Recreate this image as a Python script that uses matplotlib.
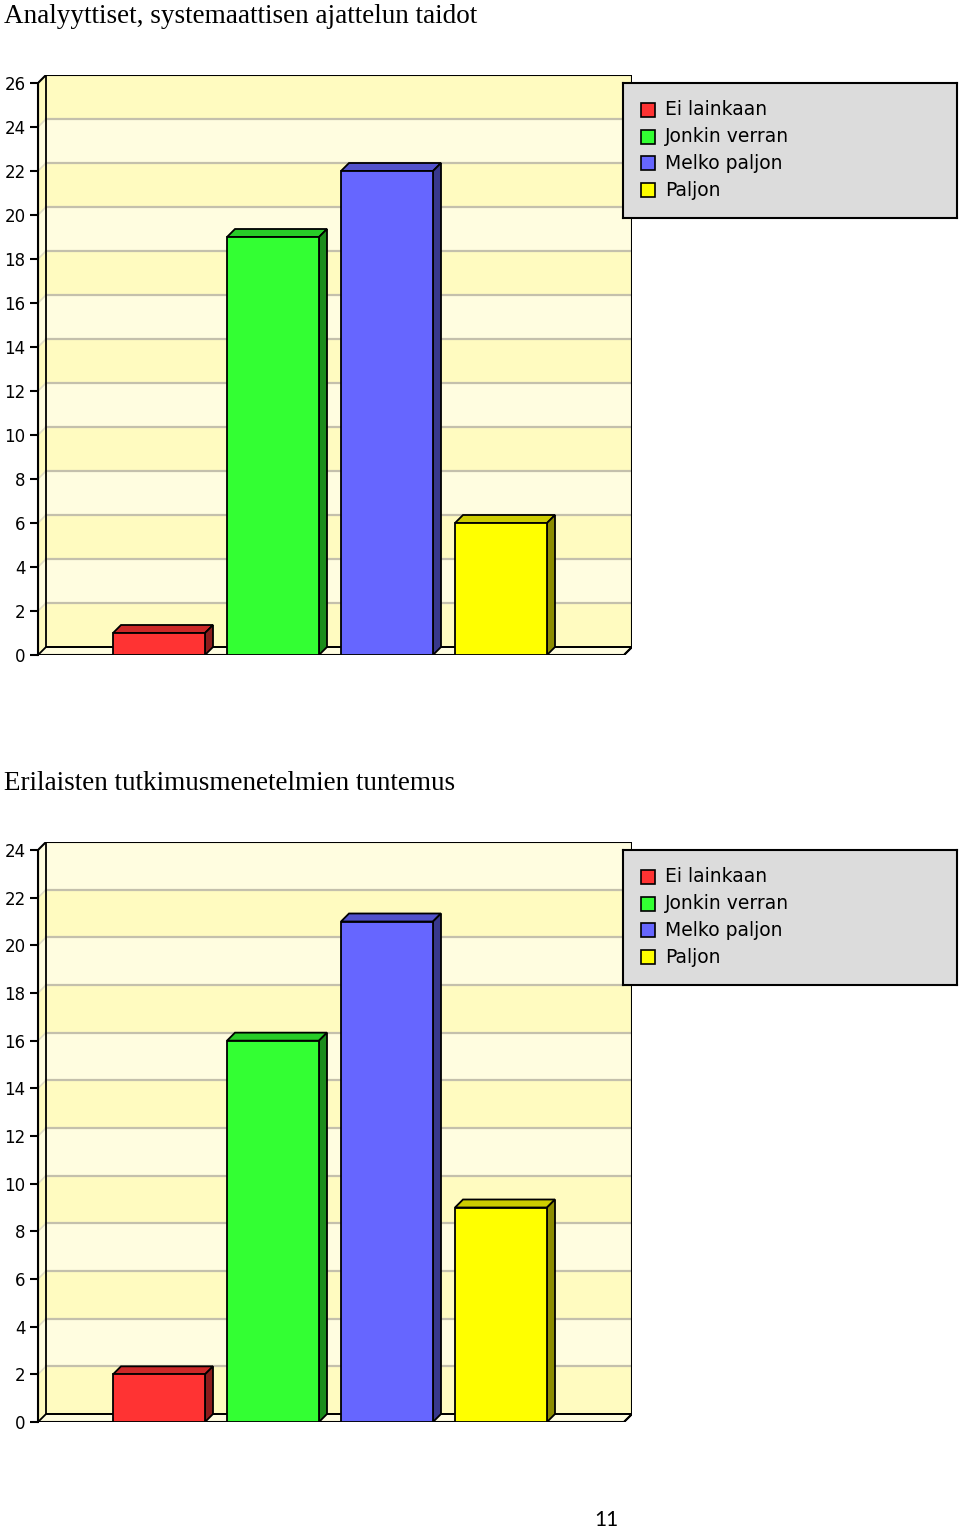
import matplotlib.pyplot as plt
from matplotlib.patches import Polygon, Rectangle

FIG_W, FIG_H = 960, 1530

CATEGORIES = ["Ei lainkaan", "Jonkin verran", "Melko paljon", "Paljon"]
FRONT_COLORS = ["#FF3333", "#33FF33", "#6666FF", "#FFFF00"]
TOP_COLORS = ["#CC2828", "#28CC28", "#5252CC", "#CCCC00"]
SIDE_COLORS = ["#8C1C1C", "#1C8C1C", "#38388C", "#8C8C00"]

TITLE_1 = "Analyyttiset, systemaattisen ajattelun taidot"
VALUES_1 = [1, 19, 22, 6]
YMAX_1 = 26

TITLE_2 = "Erilaisten tutkimusmenetelmien tuntemus"
VALUES_2 = [2, 16, 21, 9]
YMAX_2 = 24

PAGE_NUMBER = "11"

BAND_LIGHT = "#FFFDE0"
BAND_DARK = "#FFFBC0"
GRID_COLOR = "#C4C0AC"
SIDE_GRID_COLOR = "#E2DEC4"
LEGEND_BG = "#DCDCDC"


def fig_box(left, top, right, bottom):
    # pixel box (from top-left) -> figure fraction rect
    return [left / FIG_W, 1 - bottom / FIG_H, (right - left) / FIG_W, (bottom - top) / FIG_H]


def draw_chart(fig, top_px, values, ymax, title):
    left_px, right_px, height_px = 38, 632, 580
    depth_px = 8
    slot_px = 114
    first_center_px = 159
    bar_px = 92

    ax = fig.add_axes(fig_box(left_px, top_px, right_px, top_px + height_px))
    ppu = (height_px - depth_px) / ymax
    dy = depth_px / ppu
    dx = depth_px / slot_px
    x0 = (left_px - first_center_px) / slot_px
    x1 = (right_px - first_center_px) / slot_px
    w = bar_px / slot_px
    ax.set_xlim(x0, x1)
    ax.set_ylim(0, ymax + dy)

    # walls with alternating bands
    for v in range(0, ymax, 2):
        color = BAND_DARK if v % 4 == 0 else BAND_LIGHT
        band = Polygon([(x0, v), (x0 + dx, v + dy), (x1, v + dy), (x1, v + 2 + dy),
                        (x0 + dx, v + 2 + dy), (x0, v + 2)],
                       closed=True, facecolor=color, edgecolor="none", zorder=0)
        ax.add_patch(band)
    # floor
    floor = Polygon([(x0, 0), (x0 + dx, dy), (x1, dy), (x1 - dx, 0)], closed=True,
                    facecolor=BAND_LIGHT, edgecolor="black", lw=1.3, zorder=1)
    ax.add_patch(floor)

    ticks = list(range(0, ymax + 1, 2))
    for v in ticks[1:-1]:
        ax.plot([x0 + dx, x1], [v + dy, v + dy], color=GRID_COLOR, lw=1.6, zorder=1)
        ax.plot([x0, x0 + dx], [v, v + dy], color=SIDE_GRID_COLOR, lw=1.2, zorder=1)

    outline = Polygon([(x0, 0), (x0, ymax), (x0 + dx, ymax + dy), (x1, ymax + dy),
                       (x1, dy), (x1 - dx, 0)], closed=True, facecolor="none",
                      edgecolor="black", lw=1.5, zorder=2)
    ax.add_patch(outline)
    ax.plot([x0 + dx, x0 + dx, x1], [ymax + dy, dy, dy], color="black", lw=1.3, zorder=2)

    # bars
    xs = list(range(len(values)))
    ax.bar(xs, values, width=w, color=FRONT_COLORS, edgecolor="black", linewidth=1.3, zorder=4)
    for i, v in enumerate(values):
        top = Polygon([(i - w / 2, v), (i - w / 2 + dx, v + dy), (i + w / 2 + dx, v + dy),
                       (i + w / 2, v)], closed=True, facecolor=TOP_COLORS[i],
                      edgecolor="black", lw=1.3, zorder=3)
        side = Polygon([(i + w / 2, 0), (i + w / 2, v), (i + w / 2 + dx, v + dy),
                        (i + w / 2 + dx, dy)], closed=True, facecolor=SIDE_COLORS[i],
                       edgecolor="black", lw=1.3, zorder=3)
        ax.add_patch(top)
        ax.add_patch(side)

    for name in ["top", "right", "bottom"]:
        ax.spines[name].set_visible(False)
    ax.spines["left"].set_bounds(0, ymax)
    ax.spines["left"].set_linewidth(1.5)
    ax.spines["left"].set_zorder(5)
    ax.set_xticks([])
    ax.set_yticks(ticks)
    ax.tick_params(axis="y", length=6, width=1.5, pad=3, labelsize=12)
    ax.patch.set_visible(False)

    fig.text(4 / FIG_W, 1 - (top_px - 52) / FIG_H, title, family="Liberation Serif",
             fontsize=19.5, ha="left", va="baseline")

    # legend box
    lg_top = top_px + 8
    lg = fig.add_axes(fig_box(623, lg_top, 957, lg_top + 135))
    lg.set_facecolor(LEGEND_BG)
    lg.set_xlim(0, 334)
    lg.set_ylim(135, 0)
    lg.set_xticks([])
    lg.set_yticks([])
    for s in lg.spines.values():
        s.set_linewidth(1.5)
    for k, (name, color) in enumerate(zip(CATEGORIES, FRONT_COLORS)):
        yc = 27 + k * 26.7
        lg.add_patch(Rectangle((18, yc - 7), 14, 14, facecolor=color, edgecolor="black", lw=1.2))
        lg.text(42, yc, name, fontsize=13.5, ha="left", va="center")


fig = plt.figure(figsize=(FIG_W / 100, FIG_H / 100), dpi=100)
draw_chart(fig, 75, VALUES_1, YMAX_1, TITLE_1)
draw_chart(fig, 842, VALUES_2, YMAX_2, TITLE_2)
fig.text(606 / FIG_W, 1 - 1520 / FIG_H, PAGE_NUMBER, family="Lato", fontsize=15,
         ha="center", va="center")
fig.savefig("out.png", dpi=100)
